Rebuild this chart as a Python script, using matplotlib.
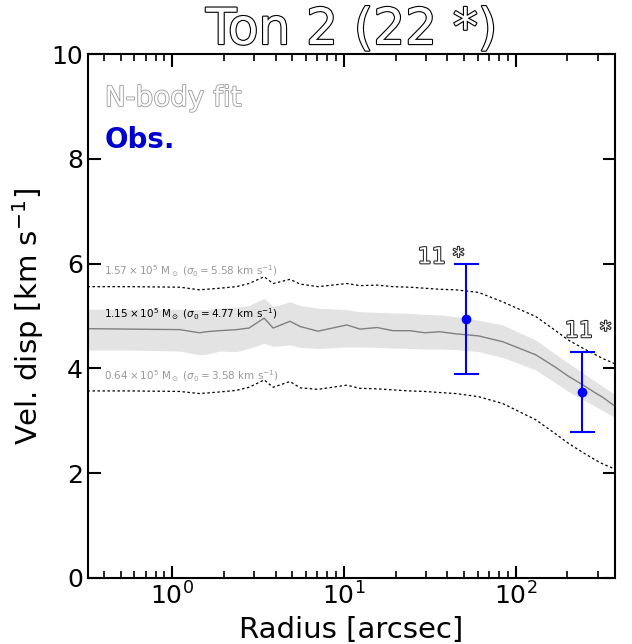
import numpy as np
import matplotlib
matplotlib.use("Agg")
import matplotlib.pyplot as plt
import matplotlib.patheffects as pe

# N-body model dispersion profiles (radius in arcsec, dispersion in km/s)
radius = [0.3, 0.57, 1.11, 1.44, 1.58, 1.88, 2.36, 2.80, 3.43, 3.87, 4.85,
          5.55, 7.06, 10.4, 12.4, 15.6, 19.3, 24.2, 29.6, 36.1, 44.8, 60.9,
          84.0, 131, 171, 203, 245, 292, 321, 371, 420]
fit_mid = [4.76, 4.75, 4.74, 4.68, 4.70, 4.72, 4.74, 4.77, 4.96, 4.77, 4.90,
           4.80, 4.71, 4.83, 4.75, 4.78, 4.72, 4.72, 4.68, 4.70, 4.66, 4.62,
           4.51, 4.26, 4.02, 3.85, 3.69, 3.53, 3.45, 3.30, 3.18]
fit_lo = [4.35, 4.35, 4.33, 4.26, 4.27, 4.33, 4.32, 4.38, 4.48, 4.42, 4.45,
          4.40, 4.38, 4.41, 4.41, 4.40, 4.39, 4.38, 4.37, 4.37, 4.36, 4.32,
          4.21, 3.97, 3.72, 3.56, 3.41, 3.27, 3.20, 3.08, 2.97]
fit_hi = [5.13, 5.13, 5.13, 5.12, 5.12, 5.15, 5.17, 5.20, 5.34, 5.18, 5.27,
          5.20, 5.15, 5.12, 5.08, 5.07, 5.06, 5.05, 5.03, 5.02, 4.99, 4.92,
          4.83, 4.54, 4.27, 4.10, 3.92, 3.75, 3.66, 3.52, 3.40]
high_mass = [5.56, 5.56, 5.55, 5.50, 5.51, 5.53, 5.56, 5.62, 5.75, 5.62, 5.70,
             5.61, 5.56, 5.62, 5.58, 5.59, 5.56, 5.55, 5.53, 5.51, 5.50, 5.45,
             5.27, 4.99, 4.72, 4.54, 4.39, 4.26, 4.19, 4.10, 4.02]
low_mass = [3.57, 3.57, 3.56, 3.52, 3.53, 3.55, 3.58, 3.64, 3.78, 3.64, 3.75,
            3.63, 3.60, 3.68, 3.62, 3.61, 3.59, 3.57, 3.56, 3.54, 3.52, 3.46,
            3.33, 3.02, 2.75, 2.57, 2.40, 2.25, 2.18, 2.09, 2.00]

# Model labels: mass (1e5 Msun) and central dispersion (km/s)
model_mass = [1.57, 1.15, 0.64]
model_sigma0 = [5.58, 4.77, 3.58]
model_colors = ["0.6", "black", "0.6"]

# Observed binned dispersions
obs_r = [51.2, 242]
obs_sigma = [4.95, 3.55]
obs_err = [1.05, 0.76]
obs_nstars = [11, 11]
label_r = [36.7, 264]
label_y = [6.12, 4.71]

title = "Ton 2 (22 *)"

fig = plt.figure(figsize=(6.32, 6.44), dpi=100)
ax = fig.add_axes([0.1392, 0.1025, 0.8339, 0.8136])

ax.fill_between(radius, fit_lo, fit_hi, color="0.89", lw=0, zorder=1)
ax.plot(radius, fit_mid, color="0.5", lw=1.0, zorder=2)
ax.plot(radius, high_mass, color="black", lw=0.9, dashes=(2, 2), zorder=2)
ax.plot(radius, low_mass, color="black", lw=0.9, dashes=(2, 2), zorder=2)

for m, s, c in zip(model_mass, model_sigma0, model_colors):
    ax.text(0.40, s + 0.27,
            r"$%.2f\times10^5$ M$_\odot$ ($\sigma_0=%.2f$ km s$^{-1}$)" % (m, s),
            fontsize=7.5, color=c, ha="left", va="center", zorder=3)

ax.errorbar(obs_r, obs_sigma, yerr=obs_err, fmt="o", color="blue", ms=6,
            lw=1.5, capsize=9, capthick=1.5, zorder=4)

outline_dark = [pe.withStroke(linewidth=1.5, foreground="#222222")]
for r, y, n in zip(label_r, label_y, obs_nstars):
    ax.text(r, y, "%d *" % n, fontsize=16, color="white", ha="center",
            va="center", path_effects=outline_dark, zorder=5)

ax.text(0.032, 0.916, "N-body fit", transform=ax.transAxes, fontsize=20,
        color="white", ha="left", va="center",
        path_effects=[pe.withStroke(linewidth=1.2, foreground="0.6")])
ax.text(0.032, 0.836, "Obs.", transform=ax.transAxes, fontsize=20,
        color="mediumblue", fontweight="bold", ha="left", va="center")

ax.set_xscale("log")
ax.set_xlim(0.323, 379)
ax.set_ylim(0, 10)
ax.set_yticks([0, 2, 4, 6, 8, 10])

ax.set_xlabel("Radius [arcsec]", fontsize=21)
ax.set_ylabel(r"Vel. disp [km s$^{-1}$]", fontsize=21)
ax.set_title(title, fontsize=36, color="white",
             path_effects=[pe.withStroke(linewidth=1.6, foreground="black")])

ax.tick_params(which="both", direction="in", top=True, right=True,
               labelsize=18)
ax.tick_params(which="major", length=9, width=1.5)
ax.tick_params(which="minor", length=5, width=1.2)
for sp in ax.spines.values():
    sp.set_linewidth(1.5)

fig.savefig("out.png", dpi=100)
